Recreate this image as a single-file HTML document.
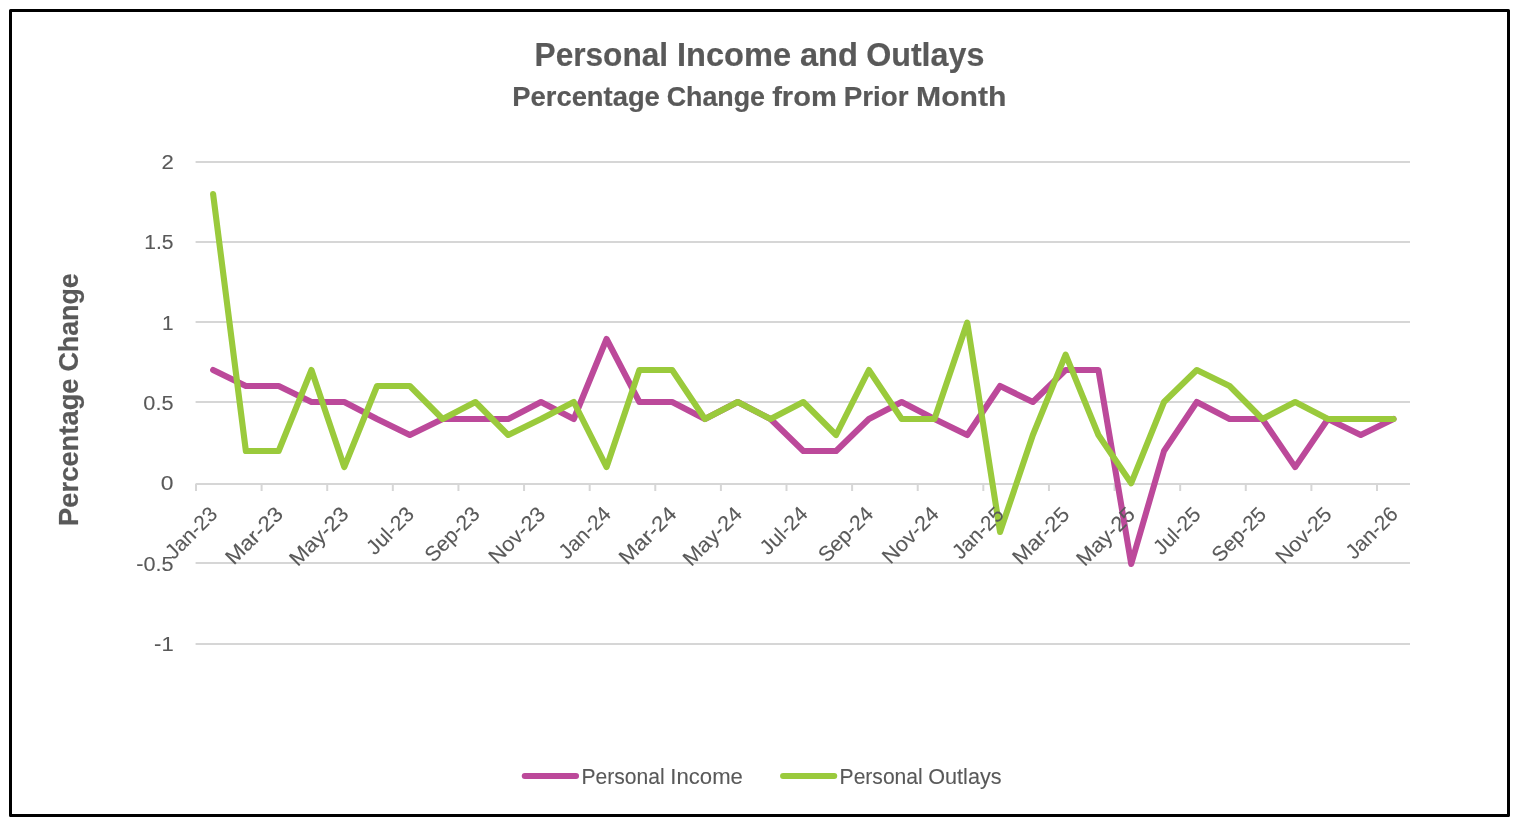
<!DOCTYPE html>
<html lang="en">
<head>
<meta charset="utf-8">
<title>Personal Income and Outlays</title>
<style>
html,body{margin:0;padding:0;background:#fff;}
body{width:1518px;height:818px;overflow:hidden;}
svg{display:block;}
svg text{font-family:"Liberation Sans",sans-serif;fill:#595959;stroke:#595959;stroke-width:0.1;stroke-linejoin:round;white-space:pre;}
.b{font-weight:bold;stroke-width:0.2;}
</style>
</head>
<body>
<svg width="1518" height="818" viewBox="0 0 1518 818">
<rect x="0" y="0" width="1518" height="818" fill="#ffffff"/>
<rect x="10.5" y="10.5" width="1498" height="805" fill="none" stroke="#000000" stroke-width="3" stroke-linejoin="round"/>
<g stroke="#D6D6D6" stroke-width="2.0" fill="none">
<line x1="195.60" y1="162.00" x2="1410.00" y2="162.00"/>
<line x1="195.60" y1="242.10" x2="1410.00" y2="242.10"/>
<line x1="195.60" y1="322.10" x2="1410.00" y2="322.10"/>
<line x1="195.60" y1="402.10" x2="1410.00" y2="402.10"/>
<line x1="195.60" y1="484.00" x2="1410.00" y2="484.00"/>
<line x1="195.60" y1="563.10" x2="1410.00" y2="563.10"/>
<line x1="195.60" y1="644.00" x2="1410.00" y2="644.00"/>
<line x1="196.00" y1="484.00" x2="196.00" y2="491.00"/>
<line x1="261.61" y1="484.00" x2="261.61" y2="491.00"/>
<line x1="327.22" y1="484.00" x2="327.22" y2="491.00"/>
<line x1="392.83" y1="484.00" x2="392.83" y2="491.00"/>
<line x1="458.44" y1="484.00" x2="458.44" y2="491.00"/>
<line x1="524.06" y1="484.00" x2="524.06" y2="491.00"/>
<line x1="589.67" y1="484.00" x2="589.67" y2="491.00"/>
<line x1="655.28" y1="484.00" x2="655.28" y2="491.00"/>
<line x1="720.89" y1="484.00" x2="720.89" y2="491.00"/>
<line x1="786.50" y1="484.00" x2="786.50" y2="491.00"/>
<line x1="852.11" y1="484.00" x2="852.11" y2="491.00"/>
<line x1="917.72" y1="484.00" x2="917.72" y2="491.00"/>
<line x1="983.33" y1="484.00" x2="983.33" y2="491.00"/>
<line x1="1048.94" y1="484.00" x2="1048.94" y2="491.00"/>
<line x1="1114.56" y1="484.00" x2="1114.56" y2="491.00"/>
<line x1="1180.17" y1="484.00" x2="1180.17" y2="491.00"/>
<line x1="1245.78" y1="484.00" x2="1245.78" y2="491.00"/>
<line x1="1311.39" y1="484.00" x2="1311.39" y2="491.00"/>
<line x1="1377.00" y1="484.00" x2="1377.00" y2="491.00"/>
</g>
<g>
<text font-size="20.64" transform="translate(173.60,169.06)"><tspan x="-12.19" textLength="12.32" lengthAdjust="spacingAndGlyphs">2</tspan></text>
<text font-size="20.64" transform="translate(174.01,249.39)"><tspan x="-29.87" textLength="29.31" lengthAdjust="spacingAndGlyphs">1.5</tspan></text>
<text font-size="20.64" transform="translate(173.66,329.73)"><tspan x="-11.62" textLength="11.57" lengthAdjust="spacingAndGlyphs">1</tspan></text>
<text font-size="20.64" transform="translate(174.01,410.06)"><tspan x="-30.65" textLength="30.12" lengthAdjust="spacingAndGlyphs">0.5</tspan></text>
<text font-size="20.64" transform="translate(173.24,490.40)"><tspan x="-12.48" textLength="12.72" lengthAdjust="spacingAndGlyphs">0</tspan></text>
<text font-size="20.64" transform="translate(174.04,570.74)"><tspan x="-37.81" textLength="37.25" lengthAdjust="spacingAndGlyphs">-0.5</tspan></text>
<text font-size="20.64" transform="translate(173.69,651.07)"><tspan x="-19.60" textLength="19.60" lengthAdjust="spacingAndGlyphs">-1</tspan></text>
</g>
<g fill="none" stroke-width="6.1" stroke-linecap="round" stroke-linejoin="round">
<path stroke="#BC499A" d="M213.09,370.00 L245.88,386.00 L278.67,386.00 L311.46,402.00 L344.25,402.00 L377.04,419.00 L409.83,435.00 L442.62,419.00 L475.41,419.00 L508.20,419.00 L541.00,402.00 L573.78,419.00 L606.58,339.00 L639.37,402.00 L672.15,402.00 L704.94,419.00 L737.73,402.00 L770.52,419.00 L803.32,451.00 L836.11,451.00 L868.89,419.00 L901.68,402.00 L934.47,419.00 L967.26,435.00 L1000.06,386.00 L1032.85,402.00 L1065.63,370.00 L1098.42,370.00 L1131.21,564.00 L1164.00,451.00 L1196.80,402.00 L1229.59,419.00 L1262.38,419.00 L1295.16,467.10 L1327.95,419.00 L1360.75,435.00 L1393.54,419.00"/>
<path stroke="#9ACA3C" d="M213.09,194.00 L245.88,451.00 L278.67,451.00 L311.46,370.00 L344.25,467.10 L377.04,386.00 L409.83,386.00 L442.62,419.00 L475.41,402.00 L508.20,435.00 L541.00,419.00 L573.78,402.00 L606.58,467.10 L639.37,370.00 L672.15,370.00 L704.94,419.00 L737.73,402.00 L770.52,419.00 L803.32,402.00 L836.11,435.00 L868.89,370.00 L901.68,419.00 L934.47,419.00 L967.26,322.60 L1000.06,532.00 L1032.85,435.00 L1065.63,354.60 L1098.42,435.00 L1131.21,483.20 L1164.00,402.00 L1196.80,370.00 L1229.59,386.00 L1262.38,419.00 L1295.16,402.00 L1327.95,419.00 L1360.75,419.00 L1393.54,419.00"/>
<line stroke="#BC499A" x1="524.8" y1="775.95" x2="576.0" y2="775.95"/>
<line stroke="#9ACA3C" x1="783.1" y1="775.95" x2="834.2" y2="775.95"/>
</g>
<g>
<text font-size="21.0" transform="translate(218.59,515.40) rotate(-45)"><tspan x="-63.33" textLength="63.36" lengthAdjust="spacingAndGlyphs">Jan-23</tspan></text>
<text font-size="21.0" transform="translate(284.17,515.40) rotate(-45)"><tspan x="-71.23" textLength="71.34" lengthAdjust="spacingAndGlyphs">Mar-23</tspan></text>
<text font-size="21.0" transform="translate(349.75,515.40) rotate(-45)"><tspan x="-73.42" textLength="73.54" lengthAdjust="spacingAndGlyphs">May-23</tspan></text>
<text font-size="21.0" transform="translate(415.33,515.40) rotate(-45)"><tspan x="-57.34" textLength="57.40" lengthAdjust="spacingAndGlyphs">Jul-23</tspan></text>
<text font-size="21.0" transform="translate(480.91,515.40) rotate(-45)"><tspan x="-67.54" textLength="67.58" lengthAdjust="spacingAndGlyphs">Sep-23</tspan></text>
<text font-size="21.0" transform="translate(546.50,515.40) rotate(-45)"><tspan x="-70.06" textLength="70.13" lengthAdjust="spacingAndGlyphs">Nov-23</tspan></text>
<text font-size="21.0" transform="translate(612.08,515.40) rotate(-45)"><tspan x="-63.33" textLength="63.53" lengthAdjust="spacingAndGlyphs">Jan-24</tspan></text>
<text font-size="21.0" transform="translate(677.65,515.40) rotate(-45)"><tspan x="-71.24" textLength="71.48" lengthAdjust="spacingAndGlyphs">Mar-24</tspan></text>
<text font-size="21.0" transform="translate(743.23,515.40) rotate(-45)"><tspan x="-73.43" textLength="73.70" lengthAdjust="spacingAndGlyphs">May-24</tspan></text>
<text font-size="21.0" transform="translate(808.82,515.40) rotate(-45)"><tspan x="-57.34" textLength="57.56" lengthAdjust="spacingAndGlyphs">Jul-24</tspan></text>
<text font-size="21.0" transform="translate(874.39,515.40) rotate(-45)"><tspan x="-67.54" textLength="67.75" lengthAdjust="spacingAndGlyphs">Sep-24</tspan></text>
<text font-size="21.0" transform="translate(939.97,515.40) rotate(-45)"><tspan x="-70.07" textLength="70.28" lengthAdjust="spacingAndGlyphs">Nov-24</tspan></text>
<text font-size="21.0" transform="translate(1005.56,515.40) rotate(-45)"><tspan x="-63.32" textLength="62.75" lengthAdjust="spacingAndGlyphs">Jan-25</tspan></text>
<text font-size="21.0" transform="translate(1071.13,515.40) rotate(-45)"><tspan x="-71.22" textLength="70.72" lengthAdjust="spacingAndGlyphs">Mar-25</tspan></text>
<text font-size="21.0" transform="translate(1136.71,515.40) rotate(-45)"><tspan x="-73.41" textLength="72.92" lengthAdjust="spacingAndGlyphs">May-25</tspan></text>
<text font-size="21.0" transform="translate(1202.30,515.40) rotate(-45)"><tspan x="-57.34" textLength="56.79" lengthAdjust="spacingAndGlyphs">Jul-25</tspan></text>
<text font-size="21.0" transform="translate(1267.88,515.40) rotate(-45)"><tspan x="-67.53" textLength="66.97" lengthAdjust="spacingAndGlyphs">Sep-25</tspan></text>
<text font-size="21.0" transform="translate(1333.45,515.40) rotate(-45)"><tspan x="-70.05" textLength="69.51" lengthAdjust="spacingAndGlyphs">Nov-25</tspan></text>
<text font-size="21.0" transform="translate(1399.04,515.40) rotate(-45)"><tspan x="-63.33" textLength="63.42" lengthAdjust="spacingAndGlyphs">Jan-26</tspan></text>
</g>
<text class="b" font-size="33.04" transform="translate(759.35,65.9)"><tspan x="-224.81" textLength="133.49" lengthAdjust="spacingAndGlyphs">Personal</tspan> <tspan x="-82.40" textLength="114.18" lengthAdjust="spacingAndGlyphs">Income</tspan> <tspan x="40.62" textLength="57.99" lengthAdjust="spacingAndGlyphs">and</tspan> <tspan x="106.79" textLength="118.24" lengthAdjust="spacingAndGlyphs">Outlays</tspan></text>
<text class="b" font-size="28.32" transform="translate(759.05,105.6)"><tspan x="-246.74" textLength="147.50" lengthAdjust="spacingAndGlyphs">Percentage</tspan> <tspan x="-92.41" textLength="98.40" lengthAdjust="spacingAndGlyphs">Change</tspan> <tspan x="13.09" textLength="64.64" lengthAdjust="spacingAndGlyphs">from</tspan> <tspan x="84.74" textLength="64.83" lengthAdjust="spacingAndGlyphs">Prior</tspan> <tspan x="157.06" textLength="90.35" lengthAdjust="spacingAndGlyphs">Month</tspan></text>
<text class="b" font-size="28.32" transform="translate(77.9,399.5) rotate(-90)"><tspan x="-126.44" textLength="147.50" lengthAdjust="spacingAndGlyphs">Percentage</tspan> <tspan x="27.90" textLength="98.40" lengthAdjust="spacingAndGlyphs">Change</tspan></text>
<text font-size="21.24" transform="translate(581.5,783.9)"><tspan x="0.00" textLength="83.13" lengthAdjust="spacingAndGlyphs">Personal</tspan> <tspan x="88.83" textLength="72.57" lengthAdjust="spacingAndGlyphs">Income</tspan></text>
<text font-size="21.24" transform="translate(839.6,783.9)"><tspan x="0.00" textLength="83.13" lengthAdjust="spacingAndGlyphs">Personal</tspan> <tspan x="88.71" textLength="73.25" lengthAdjust="spacingAndGlyphs">Outlays</tspan></text>
</svg>
</body>
</html>
